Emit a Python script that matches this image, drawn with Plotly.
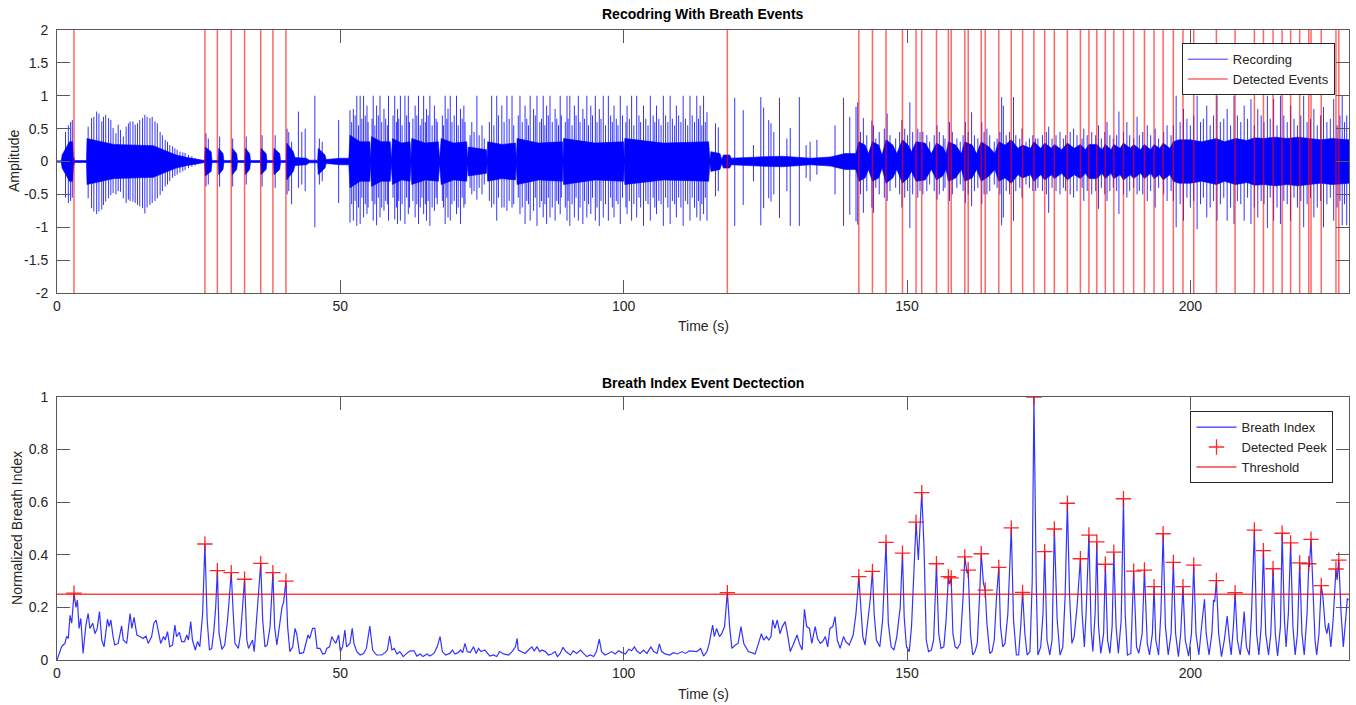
import plotly.graph_objects as go

# ---------------- data ----------------
# Detected breath-index peaks (time s, normalized value)
peak_t = [3.0, 26.1, 28.3, 30.75, 33.1, 35.95, 38.1, 40.4, 118.3, 141.5, 143.9, 146.3, 149.2,
          151.6, 152.6, 155.2, 157.3, 157.8, 160.2, 160.8, 163.1, 163.8, 166.2, 168.4, 170.4,
          172.4, 174.3, 176.0, 178.3, 180.6, 182.1, 183.5, 185.0, 186.5, 188.2, 190.0, 191.9,
          193.6, 195.2, 197.0, 198.7, 200.6, 204.6, 207.9, 211.3, 212.9, 214.6, 216.2, 217.7,
          219.3, 220.9, 221.3, 223.1, 225.7, 226.2]
peak_v = [0.254, 0.441, 0.34, 0.332, 0.307, 0.367, 0.332, 0.30, 0.256, 0.317, 0.337, 0.447, 0.406,
          0.524, 0.636, 0.366, 0.317, 0.312, 0.392, 0.342, 0.404, 0.266, 0.352, 0.502, 0.257,
          1.0, 0.412, 0.498, 0.596, 0.385, 0.475, 0.449, 0.364, 0.41, 0.613, 0.338, 0.342,
          0.279, 0.48, 0.371, 0.279, 0.361, 0.302, 0.256, 0.494, 0.416, 0.347, 0.482, 0.445,
          0.369, 0.366, 0.459, 0.283, 0.346, 0.38]

threshold = 0.25

# Breath index curve (time s, value)
bi_t = [0, 0.5, 0.8, 1.1, 1.4, 1.7, 2.0, 2.3, 2.6, 3.0, 3.35, 3.6, 3.9, 4.2, 4.6, 5.1, 5.5, 5.8,
        6.3, 6.7, 7.1, 7.5, 7.9, 8.3, 8.9, 9.2, 9.5, 9.9, 10.2, 10.8, 11.4, 11.7, 12.3, 12.9,
        13.2, 13.6, 14.1, 14.6, 15.2, 15.7, 16.1, 16.7, 17.1, 17.5, 17.9, 18.3, 18.8, 19.1,
        19.5, 19.9, 20.4, 20.8, 21.1, 21.6, 22.0, 22.5, 22.9, 23.2, 23.6, 23.9, 24.4, 24.8,
        25.2, 25.7, 26.1, 26.5, 26.9, 27.3, 27.7, 28.0, 28.3, 28.6, 29.1, 29.6, 30.1, 30.75,
        31.1, 31.4, 32.0, 32.4, 33.1, 33.5, 33.8, 34.2, 34.5, 34.8, 35.2, 35.5, 35.95, 36.3,
        36.7, 37.1, 37.6, 38.1, 38.4, 38.8, 39.2, 39.7, 40.0, 40.4, 40.7, 41.1, 41.6, 42.0,
        42.3, 42.8, 43.5, 43.9, 44.3, 44.6, 45.1, 45.5, 45.9, 46.4, 46.9, 47.3, 47.6, 48.1,
        48.5, 48.8, 49.2, 49.7, 50.0, 50.4, 50.8, 51.1, 51.7, 52.1, 52.4, 52.9, 53.5, 54.1,
        54.6, 55.2, 55.7, 56.4, 57.3, 57.9, 58.3, 58.7, 59.1, 59.5, 60.0, 60.5, 61.1, 61.7,
        62.3, 63.0, 63.5, 64.1, 64.6, 65.3, 65.8, 66.5, 67.1, 67.6, 68.0, 68.6, 69.3, 69.8,
        70.2, 70.8, 71.2, 71.6, 72.0, 72.4, 72.9, 73.5, 73.97, 74.4, 74.8, 75.5, 76.4, 77.0,
        77.6, 78.1, 78.8, 79.7, 80.3, 80.9, 81.2, 81.4, 82.0, 82.6, 83.2, 83.8, 84.2, 84.7,
        85.2, 85.6, 86.2, 86.7, 87.3, 87.9, 88.3, 88.8, 89.3, 89.8, 90.6, 91.1, 91.7, 92.4,
        93.0, 93.5, 94.1, 94.7, 95.2, 95.7, 96.1, 96.7, 97.3, 97.9, 98.5, 99.1, 99.7, 100.3,
        100.9, 101.4, 101.9, 102.3, 102.9, 103.5, 104.1, 104.8, 105.3, 105.9, 106.3, 106.7,
        107.3, 108.1, 108.8, 109.5, 110.3, 110.9, 111.6, 112.3, 112.9, 113.6, 114.1, 114.7,
        115.1, 115.7, 116.0, 116.4, 116.9, 117.3, 117.8, 118.3, 118.7, 119.1, 119.7, 120.2,
        120.7, 121.2, 121.6, 122.0, 122.6, 123.2, 123.8, 124.3, 124.7, 125.2, 125.6, 126.0,
        126.3, 126.7, 127.1, 127.6, 128.0, 128.5, 128.9, 129.4, 130.0, 130.6, 131.0, 131.5,
        131.9, 132.3, 132.8, 133.2, 133.8, 134.2, 134.7, 135.1, 135.6, 136.0, 136.4, 136.9,
        137.3, 137.7, 138.2, 138.8, 139.2, 139.8, 140.5, 141.0, 141.5, 141.9, 142.2, 142.6,
        143.2, 143.5, 143.9, 144.2, 144.6, 145.2, 145.7, 146.3, 146.7, 147.2, 147.7, 148.2,
        148.8, 149.2, 149.5, 149.9, 150.4, 150.8, 151.6, 152.0, 152.6, 153.0, 153.4, 153.8,
        154.3, 154.7, 155.2, 155.6, 156.0, 156.5, 156.9, 157.3, 157.5, 157.8, 158.1, 158.5,
        158.9, 159.4, 159.9, 160.2, 160.6, 160.8, 161.2, 161.6, 162.0, 162.4, 162.8, 163.1,
        163.5, 163.8, 164.1, 164.6, 165.0, 165.4, 165.8, 166.2, 166.5, 166.9, 167.3, 167.8,
        168.4, 168.8, 169.3, 169.7, 170.1, 170.4, 170.8, 171.2, 171.7, 172.1, 172.4, 172.8,
        173.1, 173.6, 174.0, 174.3, 174.7, 175.2, 175.6, 176.0, 176.5, 177.0, 177.5, 177.9,
        178.3, 178.7, 179.1, 179.5, 180.0, 180.6, 180.9, 181.3, 181.6, 182.1, 182.5, 182.8,
        183.2, 183.5, 183.8, 184.2, 184.7, 185.0, 185.4, 185.8, 186.2, 186.5, 186.9, 187.3,
        187.8, 188.2, 188.5, 188.9, 189.5, 190.0, 190.5, 190.9, 191.5, 191.9, 192.4, 192.8,
        193.3, 193.6, 193.9, 194.4, 194.8, 195.2, 195.6, 196.1, 196.6, 197.0, 197.4, 197.9,
        198.3, 198.7, 199.1, 199.7, 200.2, 200.6, 201.0, 201.5, 202.1, 202.5, 202.8, 203.3,
        203.8, 204.1, 204.3, 204.6, 205.0, 205.5, 206.0, 206.5, 206.9, 207.2, 207.6, 207.9,
        208.3, 208.8, 209.2, 209.5, 209.9, 210.4, 210.8, 211.3, 211.7, 212.1, 212.5, 212.9,
        213.3, 213.8, 214.2, 214.6, 215.0, 215.4, 215.9, 216.2, 216.6, 216.9, 217.3, 217.7,
        218.1, 218.5, 218.9, 219.3, 219.7, 220.1, 220.6, 220.9, 221.0, 221.3, 221.6, 222.0,
        222.3, 222.7, 223.1, 223.4, 223.8, 224.1, 224.4, 224.8, 225.2, 225.7, 225.9, 226.2,
        226.6, 227.0, 227.4, 227.7, 227.9]
bi_v = [0.0, 0.032, 0.05, 0.057, 0.063, 0.09, 0.082, 0.17, 0.14, 0.254, 0.20, 0.228, 0.12, 0.158,
        0.025, 0.133, 0.177, 0.12, 0.14, 0.10, 0.12, 0.184, 0.076, 0.05, 0.155, 0.127, 0.152,
        0.089, 0.057, 0.063, 0.13, 0.076, 0.063, 0.177, 0.12, 0.162, 0.095, 0.089, 0.082,
        0.091, 0.063, 0.089, 0.14, 0.152, 0.10, 0.063, 0.089, 0.076, 0.108, 0.05, 0.057,
        0.133, 0.089, 0.105, 0.07, 0.07, 0.095, 0.076, 0.146, 0.076, 0.038, 0.07, 0.05,
        0.177, 0.441, 0.152, 0.038, 0.044, 0.114, 0.2, 0.34, 0.10, 0.04, 0.057, 0.152, 0.332,
        0.177, 0.063, 0.044, 0.10, 0.307, 0.076, 0.044, 0.063, 0.076, 0.032, 0.152, 0.266,
        0.367, 0.152, 0.05, 0.057, 0.127, 0.332, 0.127, 0.057, 0.114, 0.2, 0.222, 0.30,
        0.127, 0.032, 0.05, 0.12, 0.10, 0.025, 0.028, 0.063, 0.095, 0.082, 0.12, 0.12, 0.044,
        0.044, 0.023, 0.025, 0.044, 0.05, 0.089, 0.076, 0.063, 0.095, 0.032, 0.05, 0.114,
        0.05, 0.063, 0.12, 0.063, 0.032, 0.019, 0.025, 0.044, 0.129, 0.038, 0.019, 0.019,
        0.028, 0.038, 0.091, 0.038, 0.044, 0.023, 0.032, 0.013, 0.025, 0.035, 0.035, 0.015,
        0.023, 0.013, 0.023, 0.015, 0.025, 0.05, 0.089, 0.032, 0.019, 0.025, 0.038, 0.023,
        0.028, 0.038, 0.028, 0.063, 0.032, 0.028, 0.05, 0.025, 0.044, 0.032, 0.038, 0.015,
        0.019, 0.013, 0.032, 0.023, 0.019, 0.032, 0.05, 0.082, 0.038, 0.032, 0.025, 0.038,
        0.05, 0.035, 0.05, 0.032, 0.038, 0.032, 0.019, 0.023, 0.032, 0.013, 0.025, 0.048,
        0.032, 0.019, 0.035, 0.025, 0.038, 0.023, 0.013, 0.019, 0.013, 0.032, 0.079, 0.032,
        0.019, 0.025, 0.032, 0.023, 0.035, 0.028, 0.023, 0.041, 0.035, 0.05, 0.035, 0.025,
        0.038, 0.025, 0.05, 0.032, 0.025, 0.061, 0.032, 0.023, 0.019, 0.028, 0.023, 0.032,
        0.025, 0.035, 0.032, 0.032, 0.044, 0.015, 0.032, 0.063, 0.133, 0.089, 0.12, 0.089,
        0.10, 0.127, 0.256, 0.127, 0.044, 0.057, 0.063, 0.127, 0.063, 0.05, 0.032, 0.028,
        0.023, 0.063, 0.10, 0.076, 0.089, 0.076, 0.089, 0.152, 0.12, 0.152, 0.10, 0.127,
        0.146, 0.10, 0.032, 0.063, 0.095, 0.063, 0.038, 0.193, 0.127, 0.12, 0.063, 0.127,
        0.082, 0.063, 0.07, 0.089, 0.05, 0.12, 0.127, 0.165, 0.076, 0.044, 0.089, 0.07,
        0.057, 0.095, 0.177, 0.317, 0.2, 0.089, 0.057, 0.165, 0.228, 0.337, 0.177, 0.076,
        0.05, 0.152, 0.447, 0.14, 0.05, 0.038, 0.089, 0.2, 0.406, 0.165, 0.05, 0.032, 0.127,
        0.524, 0.38, 0.636, 0.43, 0.076, 0.032, 0.038, 0.076, 0.366, 0.10, 0.044, 0.05,
        0.152, 0.317, 0.29, 0.312, 0.10, 0.05, 0.044, 0.063, 0.24, 0.392, 0.33, 0.342, 0.10,
        0.019, 0.032, 0.063, 0.24, 0.404, 0.29, 0.266, 0.14, 0.025, 0.032, 0.076, 0.24,
        0.352, 0.127, 0.05, 0.063, 0.177, 0.502, 0.152, 0.019, 0.019, 0.14, 0.257, 0.10,
        0.019, 0.032, 0.30, 1.0, 0.30, 0.019, 0.05, 0.177, 0.412, 0.076, 0.019, 0.076, 0.498,
        0.152, 0.019, 0.05, 0.24, 0.596, 0.24, 0.063, 0.089, 0.2, 0.385, 0.177, 0.05, 0.177,
        0.475, 0.114, 0.032, 0.177, 0.449, 0.127, 0.025, 0.10, 0.364, 0.076, 0.025, 0.127,
        0.41, 0.127, 0.025, 0.152, 0.613, 0.177, 0.019, 0.025, 0.338, 0.05, 0.025, 0.10,
        0.342, 0.063, 0.019, 0.10, 0.279, 0.076, 0.019, 0.177, 0.48, 0.127, 0.019, 0.10,
        0.371, 0.10, 0.013, 0.10, 0.279, 0.076, 0.015, 0.10, 0.361, 0.10, 0.019, 0.152,
        0.231, 0.10, 0.019, 0.10, 0.228, 0.222, 0.302, 0.10, 0.013, 0.076, 0.167, 0.076,
        0.019, 0.127, 0.256, 0.076, 0.019, 0.10, 0.184, 0.05, 0.019, 0.177, 0.494, 0.10,
        0.019, 0.127, 0.416, 0.10, 0.019, 0.10, 0.347, 0.10, 0.015, 0.127, 0.482, 0.152,
        0.05, 0.177, 0.445, 0.127, 0.019, 0.10, 0.369, 0.10, 0.019, 0.177, 0.366, 0.355,
        0.459, 0.279, 0.076, 0.019, 0.10, 0.283, 0.24, 0.127, 0.10, 0.14, 0.05, 0.152,
        0.346, 0.304, 0.38, 0.177, 0.05, 0.152, 0.234, 0.228]

# Recording: dense core envelope (time s, +/- amplitude)
core_t = [0, 0.75, 0.9, 1.5, 2.2, 2.75, 2.9, 3.1, 5.2, 5.3, 7.0, 10, 17, 19, 21, 23, 25, 25.8,
          26.05, 26.15, 27.2, 27.35, 28.45, 28.55, 29.3, 29.45, 30.85, 30.95, 31.7, 31.85,
          33.15, 33.25, 34.0, 34.15, 35.9, 36.0, 36.9, 37.05, 38.2, 38.3, 39.3, 39.45,
          40.45, 40.55, 41.7, 42.0, 44.0, 44.5, 46.0, 46.1, 47.3, 47.5, 50, 51.5,
          51.7, 53.5, 55.2, 55.3, 55.5, 57.2, 58.8, 59.0, 59.2, 60.8, 62.3, 62.45, 62.6, 65.0,
          67.3, 67.5, 67.8, 70.0, 72.3, 72.45, 72.6, 75.8, 75.9, 76.0, 78.5, 80.9, 81.05,
          81.2, 85.0, 89.2, 89.3, 89.4, 95.0, 100.0, 100.1, 100.2, 107.0, 115.0, 115.2, 115.4,
          117.0, 117.3, 117.6, 118.7, 119, 124, 128, 133, 136.5, 139, 141.0,
          141.5, 142.6, 143.2, 143.9, 145.0, 145.6, 146.3, 147.5, 148.2, 149.2, 150.2, 150.8,
          151.6, 153.2, 154.3, 155.2, 156.3, 156.9, 157.3, 158.6, 159.6, 160.2, 161.5, 162.3,
          163.1, 164.5, 165.5, 166.2, 167.3, 168.4, 169.6, 170.4, 171.8, 172.4, 173.6, 174.3,
          175.5, 176.0, 177.3, 178.3, 179.5, 180.6, 181.5, 182.1, 183.5, 184.4, 185.0, 186.0,
          186.5, 187.6, 188.2, 189.4, 190.0, 191.2, 191.9, 193.0, 193.6, 194.6, 195.2, 196.4,
          197.0, 198.0, 200, 202, 204.6, 206, 208, 210, 211.3, 213, 215, 217, 219, 221, 223,
          225, 227, 228]
core_a = [0.01, 0.01, 0.1, 0.2, 0.3, 0.3, 0.08, 0.015, 0.015, 0.35, 0.32, 0.26, 0.24, 0.17, 0.1,
          0.06, 0.03, 0.015,
          0.015, 0.22, 0.15, 0.015, 0.015, 0.2, 0.12, 0.015, 0.015, 0.2, 0.12, 0.015,
          0.015, 0.2, 0.12, 0.015, 0.015, 0.2, 0.12, 0.015, 0.015, 0.2, 0.12, 0.015,
          0.015, 0.28, 0.15, 0.06, 0.05, 0.02, 0.02, 0.2, 0.1, 0.03, 0.05, 0.05,
          0.4, 0.3, 0.3, 0.03, 0.38, 0.3, 0.3, 0.03, 0.35, 0.28, 0.3, 0.03, 0.35, 0.28,
          0.3, 0.03, 0.35, 0.28, 0.3, 0.03, 0.22, 0.18, 0.03, 0.3, 0.26, 0.28, 0.03,
          0.35, 0.28, 0.3, 0.03, 0.35, 0.28, 0.3, 0.03, 0.35, 0.28, 0.3, 0.03, 0.15,
          0.12, 0.03, 0.1, 0.1, 0.05, 0.07, 0.08, 0.05, 0.07, 0.12, 0.12,
          0.3, 0.25, 0.12, 0.3, 0.25, 0.1, 0.33, 0.25, 0.12, 0.33, 0.25, 0.15,
          0.3, 0.28, 0.12, 0.28, 0.22, 0.12, 0.3, 0.25, 0.12, 0.3, 0.25, 0.12,
          0.3, 0.22, 0.12, 0.3, 0.25, 0.33, 0.2, 0.25, 0.2, 0.3, 0.2, 0.28,
          0.2, 0.26, 0.18, 0.28, 0.2, 0.26, 0.18, 0.26, 0.26, 0.18, 0.26, 0.18,
          0.26, 0.2, 0.28, 0.2, 0.26, 0.18, 0.26, 0.18, 0.26, 0.2, 0.28, 0.2,
          0.3, 0.33, 0.33, 0.3, 0.35, 0.3, 0.35, 0.32, 0.36, 0.35, 0.37, 0.35, 0.37, 0.35, 0.33,
          0.35, 0.33, 0.33]

# Recording: individual excursions beyond the dense core (time s, top, bottom)
spk_t = [1.5, 2.0, 2.4, 2.7,
         5.5, 6.1, 6.5, 7.0, 7.4, 7.9, 8.2, 8.6, 9.1, 9.5, 9.9, 10.4, 10.8, 11.2, 11.7, 12.2,
         12.6, 12.9, 13.4, 13.8, 14.2, 14.6, 15.1, 15.5, 15.9, 16.4, 16.8, 17.3, 17.7, 18.2,
         18.6, 19.1, 19.5, 19.9, 20.4, 20.8, 21.2, 21.7, 22.2, 22.6, 23.2, 23.8, 24.4, 24.9,
         26.3, 26.7, 28.7, 31.0, 33.4, 36.2, 38.5, 40.6, 40.9, 41.4, 42.6, 43.2, 43.8, 45.5,
         46.3, 46.8, 49.7,
         51.7, 52.3, 52.9, 53.5, 54.1, 54.7, 55.8, 56.4, 57.0, 57.7, 58.5, 59.6, 60.1, 60.6,
         61.4, 62.0, 63.2, 63.8, 64.7, 65.2, 65.8, 66.6, 68.5, 69.0, 69.4, 70.5, 71.2, 71.8,
         73.2, 74.1, 75.0, 76.7, 77.6, 78.5, 79.4, 80.3, 81.7, 82.6, 83.5, 84.1, 84.7, 85.8,
         86.4, 87.0, 87.9, 88.8, 90.0, 90.5, 91.3, 92.0, 92.8, 93.5, 94.2, 95.0, 95.7, 96.4,
         97.3, 98.3, 99.4, 100.6, 101.4, 102.3, 103.5, 104.7, 105.8, 107.0, 108.2, 109.3,
         110.5, 111.7, 112.9, 113.5, 114.1, 114.7, 116.2, 116.7,
         119.6, 121.1, 122.9, 124.2, 124.7, 125.6, 126.0, 126.5, 127.5, 128.8, 129.4, 131.0,
         132.2, 132.9, 134.1, 137.3, 138.8, 139.9, 141.0, 141.3,
         142.3, 143.8, 144.1, 146.5, 149.1, 150.5, 152.3, 155.3, 157.5, 160.3, 161.4, 163.2,
         164.1, 166.7, 167.0, 168.8, 170.3, 172.7, 175.0,
         177.0, 179.4, 181.2, 183.8, 185.3, 187.4, 188.8, 190.6, 192.4, 193.8, 195.9, 197.5,
         198.8, 201.2, 202.9, 204.7, 206.5, 207.7, 209.5, 210.7, 211.9, 213.6, 214.7, 215.9,
         217.7, 220.0, 221.8, 223.5, 225.3, 226.8, 227.6]
spk_hi = [0.45, 0.55, 0.6, 0.63,
          0.53, 0.66, 0.68, 0.76, 0.73, 0.61, 0.68, 0.71, 0.66, 0.63, 0.51, 0.43, 0.56, 0.48,
          0.38, 0.53, 0.58, 0.61, 0.61, 0.56, 0.58, 0.63, 0.66, 0.71, 0.68, 0.66, 0.68, 0.61,
          0.58, 0.45, 0.40, 0.33, 0.30, 0.25, 0.23, 0.20, 0.18, 0.15, 0.14, 0.13, 0.10, 0.08,
          0.05, 0.035,
          0.43, 0.35, 0.38, 0.35, 0.38, 0.4, 0.4, 0.5, 0.45, 0.3, 0.76, 0.45, 0.5, 1.0,
          0.35, 0.3, 0.63,
          0.78, 0.8, 1.0, 1.0, 1.0, 0.85, 1.0, 0.85, 1.0, 0.8, 1.0, 1.0, 0.8, 1.0,
          1.0, 1.0, 0.85, 1.0, 1.0, 0.8, 1.0, 0.85, 1.0, 0.8, 1.0, 1.0, 0.8, 0.85,
          0.6, 1.0, 0.55, 1.0, 1.0, 0.85, 1.0, 1.0, 1.0, 0.85, 1.0, 0.8, 1.0, 1.0,
          0.85, 1.0, 0.8, 1.0, 1.0, 1.0, 0.85, 1.0, 0.8, 1.0, 0.85, 1.0, 0.8, 1.0,
          1.0, 0.85, 1.0, 0.85, 1.0, 1.0, 0.85, 1.0, 0.85, 1.0, 1.0, 0.85,
          1.0, 1.0, 1.0, 0.85, 1.0, 0.75, 0.58, 0.52,
          0.97, 0.78, 0.25, 0.98, 0.82, 0.63, 0.58, 0.45, 0.97, 0.35, 0.51, 0.98,
          0.25, 0.3, 0.33, 0.55, 0.97, 0.68, 0.83, 0.9,
          0.66, 0.62, 0.55, 0.73, 0.63, 0.9, 0.45, 0.55, 0.6, 0.6, 0.75, 0.6,
          0.5, 0.98, 0.85, 0.98, 0.5, 0.35, 0.53,
          0.45, 0.5, 0.5, 0.55, 0.6, 0.76, 0.6, 0.68, 0.55, 0.5, 0.55, 1.0,
          0.8, 1.0, 0.85, 1.0, 0.8, 1.0, 0.85, 0.95, 0.8, 1.0, 0.95, 1.0,
          0.85, 1.0, 0.8, 0.83, 0.95, 1.0, 0.7]
spk_lo = [-0.55, -0.63, -0.6, -0.55,
          -0.56, -0.71, -0.76, -0.8, -0.76, -0.73, -0.66, -0.61, -0.56, -0.51, -0.48, -0.5,
          -0.45, -0.46, -0.56, -0.63, -0.58, -0.6, -0.61, -0.63, -0.66, -0.68, -0.71, -0.79,
          -0.7, -0.66, -0.63, -0.6, -0.56, -0.51, -0.45, -0.38, -0.35, -0.3, -0.25, -0.22,
          -0.2, -0.17, -0.15, -0.13, -0.1, -0.08, -0.06, -0.04,
          -0.38, -0.35, -0.38, -0.38, -0.35, -0.38, -0.4, -0.5, -0.45, -0.65, -0.4, -0.35,
          -0.45, -1.0, -0.35, -0.3, -0.63,
          -0.93, -0.9, -0.98, -0.95, -0.85, -0.8, -0.9, -0.97, -0.85, -0.75, -0.9, -0.88,
          -0.95, -0.9, -0.95, -0.8, -0.85, -0.95, -0.8, -0.9, -0.98, -0.75, -0.95, -0.85,
          -0.9, -0.8, -0.95, -0.7, -0.5, -0.58, -0.5, -0.7, -0.9, -0.7, -0.75, -0.7,
          -0.8, -0.95, -0.9, -0.75, -0.98, -0.85, -0.95, -0.85, -0.9, -0.8, -0.9, -0.98,
          -0.85, -0.9, -0.95, -0.85, -0.8, -0.9, -0.98, -0.85, -0.9, -0.85, -0.95, -0.8,
          -0.9, -0.85, -0.98, -0.9, -0.8, -0.98, -0.95, -0.85, -0.98, -0.9, -0.85, -0.9,
          -0.8, -0.9, -0.53, -0.45,
          -0.98, -0.66, -0.3, -0.97, -0.71, -0.56, -0.61, -0.5, -0.86, -0.45, -0.98, -0.98,
          -0.25, -0.3, -0.2, -0.5, -0.98, -0.81, -0.91, -0.96,
          -0.78, -0.7, -0.78, -0.6, -0.7, -1.01, -0.45, -0.58, -0.6, -0.63, -0.68, -0.65,
          -0.5, -0.97, -0.85, -0.9, -0.55, -0.45, -0.78,
          -0.5, -0.55, -0.6, -0.72, -0.6, -0.8, -0.55, -0.5, -0.6, -0.7, -0.6, -1.0,
          -0.9, -1.03, -0.85, -0.9, -0.9, -0.95, -0.9, -0.95, -0.85, -1.01, -0.9, -0.95,
          -0.9, -1.0, -0.85, -1.0, -0.9, -0.97, -0.97]

# Recording: medium excursions inside the busy stretches (time s, top, bottom)
mid_t = [52.0, 52.6, 53.2, 53.8, 54.4, 54.9, 55.6, 56.1, 56.7, 57.3, 58.0, 58.3, 59.3, 59.9,
         60.3, 60.9, 61.7, 62.2, 62.8, 63.5, 64.1, 64.4, 65.0, 65.5, 66.2, 66.9, 67.1, 68.0,
         68.2, 68.8, 69.7, 70.1, 70.8, 71.5, 72.0, 72.9, 73.6, 74.5, 75.4, 76.3, 77.1, 77.9,
         78.9, 79.8, 80.6, 81.4, 82.1, 82.9, 83.2, 84.4, 85.2, 85.5, 86.1, 86.7, 87.4, 88.2,
         88.5, 89.0, 89.7, 90.2, 90.9, 91.6, 92.3, 93.1, 93.8, 94.5, 95.3, 96.0, 96.8, 97.7,
         98.0, 98.7, 99.0, 99.8, 100.4, 101.0, 101.8, 102.7, 103.0, 103.9, 104.3, 105.2,
         105.5, 106.2, 106.6, 107.4, 107.8, 108.6, 109.0, 109.7, 110.1, 110.9, 111.3, 112.1,
         112.5, 113.2, 113.8, 114.4,
         141.8, 142.9, 144.5, 145.1, 146.0, 147.0, 148.0, 148.7, 149.6, 150.1, 151.0, 151.9,
         152.8, 153.5, 154.0, 154.8, 155.7, 156.4, 156.7, 158.0, 158.8, 159.4, 159.9, 160.8,
         161.9, 162.5, 163.6, 164.6, 165.4, 165.9, 166.4, 167.5, 168.1, 169.2, 169.9, 171.0,
         171.6, 172.2, 173.1, 173.9, 174.6, 175.6, 176.3, 177.6, 178.0, 178.8, 180.0, 180.9,
         181.8, 182.6, 183.3, 184.3, 184.9, 185.8, 186.4, 187.0, 188.2, 189.3, 190.0, 191.0,
         191.6, 193.0, 194.4, 195.3, 196.6, 197.0, 198.2, 199.4, 200.0, 200.6, 201.8, 202.3,
         203.5, 204.1, 205.3, 205.9, 207.1, 208.3, 208.9, 210.1, 211.3, 212.5, 213.0, 214.1,
         215.3, 216.5, 217.1, 218.3, 218.9, 219.5, 220.6, 221.2, 222.4, 223.0, 224.1, 224.7,
         225.9, 226.4, 227.2]
mid_hi = [0.6, 0.7, 0.55, 0.65, 0.7, 0.6, 0.65, 0.55, 0.7, 0.6, 0.65, 0.55, 0.7, 0.6,
          0.65, 0.55, 0.7, 0.6, 0.65, 0.7, 0.55, 0.65, 0.6, 0.7, 0.55, 0.65, 0.6, 0.7,
          0.55, 0.65, 0.6, 0.7, 0.55, 0.65, 0.6, 0.4, 0.45, 0.4, 0.35, 0.6, 0.55, 0.7,
          0.6, 0.65, 0.55, 0.7, 0.6, 0.65, 0.55, 0.7, 0.6, 0.65, 0.55, 0.7, 0.6, 0.65,
          0.55, 0.7, 0.6, 0.65, 0.55, 0.7, 0.6, 0.65, 0.55, 0.7, 0.6, 0.65, 0.55, 0.7,
          0.6, 0.65, 0.55, 0.7, 0.6, 0.65, 0.55, 0.7, 0.6, 0.65, 0.55, 0.7,
          0.6, 0.65, 0.55, 0.7, 0.6, 0.65, 0.55, 0.7, 0.6, 0.65, 0.55, 0.7,
          0.6, 0.65, 0.55, 0.6,
          0.45, 0.4, 0.35, 0.45, 0.5, 0.4, 0.35, 0.45, 0.5, 0.4, 0.45, 0.5,
          0.45, 0.4, 0.3, 0.4, 0.45, 0.4, 0.35, 0.45, 0.35, 0.3, 0.4, 0.45,
          0.4, 0.35, 0.45, 0.4, 0.3, 0.35, 0.45, 0.4, 0.45, 0.4, 0.35, 0.3,
          0.35, 0.4, 0.35, 0.4, 0.45, 0.35, 0.4, 0.35, 0.4, 0.45, 0.4, 0.35,
          0.4, 0.45, 0.4, 0.35, 0.45, 0.4, 0.35, 0.4, 0.45, 0.4, 0.35, 0.4,
          0.45, 0.4, 0.35, 0.45, 0.4, 0.55, 0.6, 0.65, 0.55, 0.7, 0.6, 0.65,
          0.55, 0.7, 0.6, 0.65, 0.55, 0.7, 0.6, 0.65, 0.55, 0.7, 0.6, 0.65,
          0.55, 0.7, 0.6, 0.65, 0.55, 0.7, 0.6, 0.65, 0.55, 0.7, 0.6, 0.65,
          0.55, 0.7, 0.6]
mid_lo = [-0.65, -0.6, -0.7, -0.55, -0.65, -0.7, -0.6, -0.65, -0.55, -0.7, -0.6, -0.65,
          -0.55, -0.7, -0.6, -0.65, -0.55, -0.7, -0.6, -0.65, -0.7, -0.55, -0.65, -0.6,
          -0.7, -0.55, -0.65, -0.6, -0.7, -0.55, -0.65, -0.6, -0.7, -0.55, -0.65, -0.4,
          -0.45, -0.4, -0.35, -0.6, -0.65, -0.55, -0.7, -0.6, -0.65, -0.55, -0.7, -0.6,
          -0.65, -0.55, -0.7, -0.6, -0.65, -0.55, -0.7, -0.6, -0.65, -0.55, -0.7, -0.6,
          -0.65, -0.55, -0.7, -0.6, -0.65, -0.55, -0.7, -0.6, -0.65, -0.55, -0.7, -0.6,
          -0.65, -0.55, -0.7, -0.6, -0.65, -0.55, -0.7, -0.6, -0.65, -0.55, -0.7, -0.6,
          -0.65, -0.55, -0.7, -0.6, -0.65, -0.55, -0.7, -0.6, -0.65, -0.55, -0.7, -0.6,
          -0.65, -0.55,
          -0.5, -0.45, -0.4, -0.5, -0.55, -0.45, -0.4, -0.5, -0.55, -0.45, -0.5, -0.55,
          -0.5, -0.45, -0.35, -0.45, -0.5, -0.45, -0.4, -0.5, -0.4, -0.35, -0.45, -0.5,
          -0.45, -0.4, -0.5, -0.45, -0.35, -0.4, -0.5, -0.45, -0.5, -0.45, -0.4, -0.35,
          -0.4, -0.45, -0.4, -0.45, -0.5, -0.4, -0.45, -0.4, -0.45, -0.5, -0.45, -0.4,
          -0.45, -0.5, -0.45, -0.4, -0.5, -0.45, -0.4, -0.45, -0.5, -0.45, -0.4, -0.45,
          -0.5, -0.45, -0.4, -0.5, -0.45, -0.6, -0.65, -0.55, -0.7, -0.6, -0.65, -0.55,
          -0.7, -0.6, -0.65, -0.55, -0.7, -0.6, -0.65, -0.55, -0.7, -0.6, -0.65, -0.55,
          -0.7, -0.6, -0.65, -0.55, -0.7, -0.6, -0.65, -0.55, -0.7, -0.6, -0.65, -0.55,
          -0.7, -0.6, -0.65]

x_range = [0, 228]
amp_range = [-2, 2]
bi_range = [0, 1]
amp_ticks = [-2, -1.5, -1, -0.5, 0, 0.5, 1, 1.5, 2]
bi_ticks = [0, 0.2, 0.4, 0.6, 0.8, 1]
time_ticks = [0, 50, 100, 150, 200]

# ---------------- figure ----------------
BLUE = "rgb(0,0,255)"
RED_LINE = "rgba(255,0,0,0.6)"
FONT = "Liberation Sans, Arial, Helvetica, sans-serif"
AXC = "#262626"

fig = go.Figure()

# core band of recording
fig.add_trace(go.Scatter(x=core_t, y=core_a, mode="lines", line=dict(width=0.6, color=BLUE),
                         showlegend=False, hoverinfo="skip", xaxis="x", yaxis="y"))
fig.add_trace(go.Scatter(x=core_t, y=[-a for a in core_a], mode="lines",
                         line=dict(width=0.6, color=BLUE), fill="tonexty", fillcolor=BLUE,
                         showlegend=False, hoverinfo="skip", xaxis="x", yaxis="y"))
# excursions
sx, sy = [], []
for t, hi, lo in zip(spk_t + mid_t, spk_hi + mid_hi, spk_lo + mid_lo):
    sx += [t, t, None]
    sy += [lo, hi, None]
fig.add_trace(go.Scatter(x=sx, y=sy, mode="lines", name="Recording",
                         line=dict(width=1, color="rgba(0,0,255,0.8)"),
                         xaxis="x", yaxis="y", legend="legend"))
# event lines
ex, ey = [], []
for t in peak_t:
    ex += [t, t, None]
    ey += [amp_range[0], amp_range[1], None]
fig.add_trace(go.Scatter(x=ex, y=ey, mode="lines", name="Detected Events",
                         line=dict(width=1.5, color=RED_LINE), xaxis="x", yaxis="y",
                         legend="legend"))

# bottom panel
fig.add_trace(go.Scatter(x=bi_t, y=bi_v, mode="lines", name="Breath Index",
                         line=dict(width=1.2, color="rgba(0,0,255,0.8)"),
                         xaxis="x2", yaxis="y2", legend="legend2"))
fig.add_trace(go.Scatter(x=peak_t, y=peak_v, mode="markers", name="Detected Peek",
                         marker=dict(symbol="cross-thin", size=11,
                                     line=dict(width=1.3, color="rgba(255,0,0,0.85)")),
                         xaxis="x2", yaxis="y2", legend="legend2"))
fig.add_trace(go.Scatter(x=x_range, y=[threshold, threshold], mode="lines", name="Threshold",
                         line=dict(width=1.5, color="rgba(255,0,0,0.75)"),
                         xaxis="x2", yaxis="y2", legend="legend2"))

axis_common = dict(showline=True, linecolor="#5a5a5a", linewidth=1, mirror="ticks",
                   ticks="inside", ticklen=13, tickcolor="#5a5a5a", tickwidth=1,
                   showgrid=False, zeroline=False,
                   tickfont=dict(family=FONT, size=14, color=AXC))

# plot areas span x 57..1349, y 30..293 and 397..660 in the 1356x705 window
fig.update_layout(
    width=1356, height=705,
    paper_bgcolor="white", plot_bgcolor="white",
    margin=dict(l=57, r=7, t=30, b=45),
    font=dict(family=FONT, size=14, color=AXC),
    xaxis=dict(domain=[0, 1], range=x_range, tickvals=time_ticks, anchor="y", **axis_common),
    yaxis=dict(domain=[0.5825, 1], range=amp_range, tickvals=amp_ticks,
               ticktext=[str(v) for v in amp_ticks], anchor="x", ticklabelstandoff=5,
               **axis_common),
    xaxis2=dict(domain=[0, 1], range=x_range, tickvals=time_ticks, anchor="y2", **axis_common),
    yaxis2=dict(domain=[0, 0.4175], range=bi_range, tickvals=bi_ticks,
                ticktext=["0", "0.2", "0.4", "0.6", "0.8", "1"], anchor="x2",
                ticklabelstandoff=5, **axis_common),
    legend=dict(x=0.989, y=0.979, xanchor="right", yanchor="top", bgcolor="white",
                bordercolor="#262626", borderwidth=1, font=dict(family=FONT, size=13, color=AXC),
                tracegroupgap=0, itemwidth=40, traceorder="normal"),
    legend2=dict(x=0.988, y=0.395, xanchor="right", yanchor="top", bgcolor="white",
                 bordercolor="#262626", borderwidth=1, font=dict(family=FONT, size=13, color=AXC),
                 tracegroupgap=0, itemwidth=40, traceorder="normal"),
    annotations=[
        dict(text="<b>Recodring With Breath Events</b>", x=0.5, y=1.025, xref="paper",
             yref="paper", showarrow=False, font=dict(family=FONT, size=14, color="black"),
             yanchor="middle"),
        dict(text="<b>Breath Index Event Dectection</b>", x=0.5, y=0.4397, xref="paper",
             yref="paper", showarrow=False, font=dict(family=FONT, size=14, color="black"),
             yanchor="middle"),
        dict(text="Time (s)", x=0.5, y=0.530, xref="paper", yref="paper", showarrow=False,
             font=dict(family=FONT, size=14, color=AXC), yanchor="middle"),
        dict(text="Time (s)", x=0.5, y=-0.054, xref="paper", yref="paper", showarrow=False,
             font=dict(family=FONT, size=14, color=AXC), yanchor="middle"),
        dict(text="Amplitude", x=-0.0333, y=0.792, xref="paper", yref="paper",
             showarrow=False, textangle=-90, font=dict(family=FONT, size=14, color=AXC),
             xanchor="center", yanchor="middle"),
        dict(text="Normalized Breath Index", x=-0.031, y=0.2095, xref="paper", yref="paper",
             showarrow=False, textangle=-90, font=dict(family=FONT, size=14, color=AXC),
             xanchor="center", yanchor="middle"),
    ],
)

# remove the default 8px page margin so the figure fills the window exactly
fig.write_html("out.html",
               config={"displayModeBar": False},
               post_script="document.body.style.margin='0px';"
                           "document.body.style.overflow='hidden';")
